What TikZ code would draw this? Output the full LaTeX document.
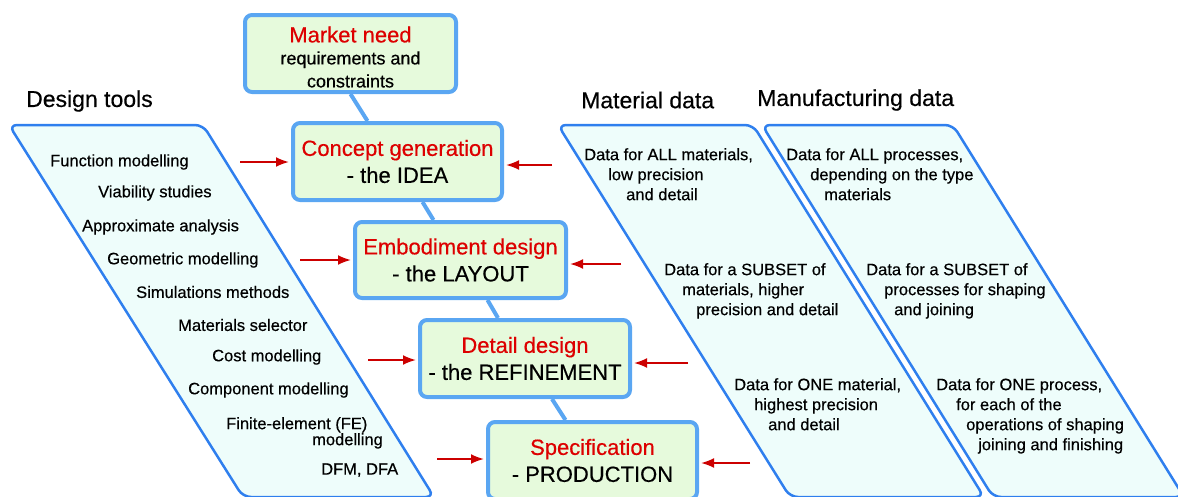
\documentclass[tikz,border=0pt]{standalone}
\usepackage{fontspec}
\setsansfont{Liberation Sans}[FakeBold=0.45]
\usepackage{tikz}
\usetikzlibrary{arrows.meta}
\definecolor{stageblue}{HTML}{5AA6F2}
\definecolor{stagefill}{HTML}{E6FADC}
\definecolor{panelblue}{HTML}{2F7FEE}
\definecolor{panelfill}{HTML}{EEFDFB}
\definecolor{titlered}{HTML}{DD0000}
\definecolor{arrowred}{HTML}{CC0000}

\begin{document}
\begin{tikzpicture}[
    x=1pt, y=-1pt,
    every node/.style={font=\sffamily},
    stage/.style={
        rectangle,
        rounded corners=7pt,
        draw=stageblue,
        fill=stagefill,
        line width=4pt,
        minimum width=209pt,
        minimum height=77pt,
        inner sep=0pt,
        align=center,
        font=\sffamily\fontsize{22}{27}\selectfont
    },
    panel/.style={draw=panelblue, fill=panelfill, line width=2.5pt, rounded corners=8pt},
    link/.style={draw=stageblue, line width=4pt},
    feed/.style={-{Latex[length=13pt,width=10pt]}, arrowred, line width=2pt, shorten >=2pt},
    heading/.style={anchor=west, inner sep=0pt, font=\sffamily\fontsize{23}{27}\selectfont},
    tool/.style={anchor=west, inner sep=0pt, font=\sffamily\fontsize{16.5}{20}\selectfont},
    datatext/.style={anchor=north west, inner sep=0pt, align=left, font=\sffamily\fontsize{16.5}{20}\selectfont}
]
    \useasboundingbox (0,0) rectangle (1178,496);

    % === PANELS ===
    \draw[panel] (9,125) -- (203,125) -- (434,497) -- (243,497) -- cycle;
    \draw[panel] (558,125) -- (753,125) -- (984,497) -- (790,497) -- cycle;
    \draw[panel] (762,125) -- (953,125) -- (1184,497) -- (993,497) -- cycle;

    % headings
    \node[heading] (toolshead) at (26,101) {Design tools};
    \node[heading] (mathead) at (581,100) {Material data};
    \node[heading] (manhead) at (757,100) {Manufacturing data};

    % === DESIGN STAGES ===
    \node[stage, minimum width=211pt] (market) at (350.5,53.5) {
        {\color{titlered}\rule{0pt}{23pt}Market need}\\[-5pt]
        \fontsize{18}{22}\selectfont requirements and\\[-4pt]
        \fontsize{18}{22}\selectfont constraints
    };
    \node[stage] (concept) at (397.5,161.5) {{\color{titlered}Concept generation}\\- the IDEA};
    \node[stage, minimum width=211pt, minimum height=76pt] (layout) at (460.5,260) {{\color{titlered}Embodiment design}\\- the LAYOUT};
    \node[stage, minimum width=210pt] (detail) at (525,358.5) {{\color{titlered}Detail design}\\- the REFINEMENT};
    \node[stage] (spec) at (592.5,460.5) {{\color{titlered}Specification}\\- PRODUCTION};

    \draw[link] (market.south) -- ([xshift=-30pt]concept.north);
    \draw[link] ([xshift=25pt]concept.south) -- ([xshift=-27pt]layout.north);
    \draw[link] ([xshift=27pt]layout.south) -- ([xshift=-27pt]detail.north);
    \draw[link] ([xshift=27pt]detail.south) -- ([xshift=-27pt]spec.north);

    % === DESIGN TOOLS ===
    \node[tool] (funcmod) at (50,162) {Function modelling};
    \node[tool] (viab) at (98,193) {Viability studies};
    \node[tool] (approx) at (82,227) {Approximate analysis};
    \node[tool] (geom) at (107,260) {Geometric modelling};
    \node[tool] (simul) at (136,292) {Simulations methods};
    \node[tool] (selector) at (178,325) {Materials selector};
    \node[tool] (cost) at (212,357) {Cost modelling};
    \node[tool] (component) at (188,390) {Component modelling};
    \node[datatext] (fem) at (226,417) {Finite-element (FE)\\[-4pt]\hspace*{86pt}modelling};
    \node[tool] (dfm) at (321,470) {DFM, DFA};

    % === MATERIAL DATA ===
    \node[datatext] (matall) at (584,148) {Data for ALL materials,\\\hspace*{24pt}low precision\\\hspace*{42pt}and detail};
    \node[datatext] (matsub) at (664,263) {Data for a SUBSET of\\\hspace*{18pt}materials, higher\\\hspace*{32pt}precision and detail};
    \node[datatext] (matone) at (734,378) {Data for ONE material,\\\hspace*{20pt}highest precision\\\hspace*{34pt}and detail};

    % === MANUFACTURING DATA ===
    \node[datatext] (manall) at (786,148) {Data for ALL processes,\\\hspace*{24pt}depending on the type\\\hspace*{38pt}materials};
    \node[datatext] (mansub) at (866,263) {Data for a SUBSET of\\\hspace*{18pt}processes for shaping\\\hspace*{28pt}and joining};
    \node[datatext] (manone) at (936,378) {Data for ONE process,\\\hspace*{20pt}for each of the\\\hspace*{30pt}operations of shaping\\\hspace*{42pt}joining and finishing};

    % === FEED ARROWS ===
    \coordinate (toolconcept) at (240,162);
    \coordinate (toollayout) at (300,260);
    \coordinate (tooldetail) at (368,360);
    \coordinate (toolspec) at (437,459);
    \coordinate (matconcept) at (552,165);
    \coordinate (matlayout) at (621,264);
    \coordinate (matdetail) at (688,363);
    \coordinate (matspec) at (750,463);

    \draw[feed] (toolconcept) -- (toolconcept -| concept.west);
    \draw[feed] (toollayout) -- (toollayout -| layout.west);
    \draw[feed] (tooldetail) -- (tooldetail -| detail.west);
    \draw[feed] (toolspec) -- (toolspec -| spec.west);
    \draw[feed] (matconcept) -- (matconcept -| concept.east);
    \draw[feed] (matlayout) -- (matlayout -| layout.east);
    \draw[feed] (matdetail) -- (matdetail -| detail.east);
    \draw[feed] (matspec) -- (matspec -| spec.east);
\end{tikzpicture}
\end{document}
